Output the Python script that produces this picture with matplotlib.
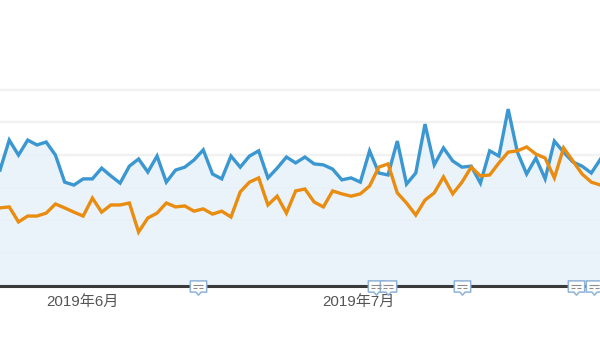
import matplotlib
matplotlib.use("Agg")
import matplotlib.pyplot as plt
from matplotlib.path import Path

blue = [354, 446, 400, 446, 431, 440, 400, 317, 308, 327, 327, 360, 336, 314, 366, 388, 348, 397, 317, 354, 363, 385, 416,
        342, 327, 397, 363, 397, 413, 330, 360, 394, 376, 394, 373, 370, 357, 324, 330, 317, 413, 345, 339, 443,
        311, 345, 495, 370, 422, 382, 363, 366, 314, 413, 397, 541, 409, 342, 391, 327, 443, 409, 379, 366, 345, 388]
orange = [238, 241, 195, 213, 213, 222, 250, 238, 225, 213, 268, 225, 247, 247, 253, 164, 207, 222, 253, 241, 244, 228, 235,
          219, 228, 210, 287, 317, 330, 247, 274, 222, 290, 296, 256, 241, 290, 281, 274, 281, 305, 363, 373, 284,
          253, 216, 262, 284, 333, 281, 317, 363, 336, 339, 376, 409, 413, 425, 403, 391, 330, 422, 382, 342, 317, 308]
days = list(range(len(blue)))
month_ticks = [8.87, 38.75]
month_labels = ["2019年6月", "2019年7月"]
grid_values = [100, 200, 300, 400, 500, 600]
note_days = [21.43, 40.7, 42.0, 50.0, 62.3, 64.3]

W, H = 600, 358
BASE = 285.5
fig = plt.figure(figsize=(W / 100, H / 100), dpi=100, facecolor="white")
ax = fig.add_axes([0, (H - BASE) / H, 1, BASE / H])
ax.set_xlim(0, 64.94)
ax.set_ylim(0, 875.6)
for s in ax.spines.values():
    s.set_visible(False)
ax.set_yticks([])
ax.set_xticks(month_ticks)
ax.set_xticklabels(month_labels, family=["Liberation Sans", "Noto Sans CJK JP"],
                   fontsize=10.9, color="#555555")
ax.tick_params(axis="x", length=0, pad=6.5)

for g in grid_values:
    ax.axhline(g, color="#f1f1f1", lw=1.7, zorder=1)
ax.fill_between(days, blue, 0, color="#e7f2f9", alpha=0.9, lw=0, zorder=2)
ax.plot(days, blue, color="#3a97d1", lw=2.4, solid_joinstyle="miter", zorder=3)
ax.plot(days, orange, color="#e98c0f", lw=2.4, solid_joinstyle="miter", zorder=4)
ax.axhline(0, color="#3a3a3a", lw=2.2, zorder=5, clip_on=False)

bubble = Path([(-8, 5.5), (8, 5.5), (8, -5.5), (2.5, -5.5), (0, -8.5), (-2.5, -5.5), (-8, -5.5), (-8, 5.5)], closed=True)
lines = Path([(-4, 1), (4, 1), (-4, -1.5), (-1, -1.5), (1, -1.5), (4, -1.5)],
             [Path.MOVETO, Path.LINETO, Path.MOVETO, Path.LINETO, Path.MOVETO, Path.LINETO])
ny = [0] * len(note_days)
ax.plot(note_days, ny, ls="none", marker=bubble, ms=12.5, mfc="white", mec="#8fb2d8", mew=1.1,
        clip_on=False, zorder=6)
ax.plot(note_days, ny, ls="none", marker=lines, ms=6.5, mfc="none", mec="#8a8a8a", mew=0.8,
        clip_on=False, zorder=7)

fig.savefig("out.png", dpi=100)
